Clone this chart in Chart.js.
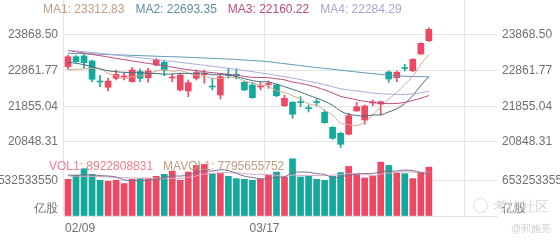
<!DOCTYPE html>
<html>
<head>
<meta charset="utf-8">
<script src="https://cdn.jsdelivr.net/npm/chart.js@4.4.1/dist/chart.umd.min.js"></script>
<style>
html, body { margin: 0; padding: 0; background: #fff; }
#wrap { position: relative; width: 560px; height: 240px; overflow: hidden; font-family: "Liberation Sans", Arial, sans-serif; }
canvas { position: absolute; left: 0; }
#main { top: 0; }
#vol { top: 150px; }
.legend { position: absolute; display: flex; gap: 11px; font-size: 12px; line-height: 14px; white-space: nowrap; }
.wm { position: absolute; color: #d6d6d6; white-space: nowrap; }
</style>
</head>
<body>
<div id="wrap">
  <canvas id="main" width="560" height="150"></canvas>
  <canvas id="vol" width="560" height="90"></canvas>
  <div class="legend" id="maLegend" style="left:43px; top:2px;"></div>
  <div class="legend" id="volLegend" style="left:49px; top:159px; gap:10px;"></div>
  <div class="wm" style="left:473px; top:198px; width:13px; height:13px; border:1px solid #dcdcdc; border-radius:50%;"></div>
  <div class="wm" style="left:493px; top:198px; font-size:13.5px;">考拉社区</div>
  <div class="wm" style="left:511px; top:222px; font-size:10px; color:#cfcfcf;">@郭施亮</div>
</div>
<script>
// candles, 46 trading days on a 54 slot axis
const slots = 54;
const dateTicks = ['02/09', '03/17'];
const dateTickIdx = [2, 25];

const opens  = [22974, 23256, 23276, 23135, 22562, 22393, 22647, 22683, 22551, 22833,
                22664, 23022, 23098, 22655, 22316, 22288, 22647, 22751, 22418, 22175,
                22748, 22748, 22534, 22457, 22401, 22469, 22457, 21873, 21969, 21978,
                21808, 21978, 21687, 21264, 21094, 21066, 21724, 21470, 21949, 21921,
                22824, 22664, 22937, 22861, 23332, 23708];
const highs  = [23304, 23290, 23324, 23163, 22720, 22647, 22881, 22788, 22946, 22909,
                22929, 23205, 23163, 22759, 22788, 22599, 22881, 22881, 22647, 22740,
                22929, 22918, 22551, 22534, 22534, 22570, 22477, 22175, 21986, 22127,
                21893, 22062, 21752, 21281, 21123, 21659, 21969, 21893, 22034, 22006,
                22853, 22853, 23042, 23200, 23651, 24074];
const lows   = [22901, 23092, 22929, 22551, 22410, 22288, 22599, 22599, 22534, 22551,
                22534, 22994, 22720, 22551, 22288, 22127, 22599, 22505, 22316, 22062,
                22647, 22627, 22297, 22082, 22316, 22364, 22127, 21845, 21518, 21845,
                21696, 21865, 21377, 20925, 20688, 21046, 21715, 21348, 21873, 21611,
                22534, 22551, 22853, 22833, 23324, 23679];
const closes = [23256, 23115, 23087, 22618, 22542, 22570, 22759, 22700, 22881, 22647,
                22853, 23171, 22881, 22672, 22740, 22522, 22805, 22768, 22401, 22692,
                22731, 22731, 22316, 22099, 22418, 22486, 22155, 22082, 21631, 21961,
                21791, 21961, 21394, 20953, 20784, 21591, 21845, 21865, 21966, 21986,
                22627, 22816, 22920, 23183, 23634, 24029];

const ma1 = [22890, 22900, 22915, 22925, 22924, 22786, 22715, 22638, 22690, 22711,
             22768, 22850, 22887, 22845, 22863, 22797, 22724, 22701, 22647, 22638,
             22679, 22665, 22574, 22514, 22459, 22410, 22295, 22248, 22154, 22063,
             21924, 21885, 21748, 21612, 21377, 21337, 21313, 21408, 21610, 21851,
             22058, 22252, 22463, 22706, 23036, 23312.83];
const ma2 = [23100, 23070, 23030, 22975, 22910, 22860, 22830, 22815, 22810, 22818,
             22777, 22783, 22762, 22768, 22787, 22783, 22787, 22794, 22746, 22751,
             22738, 22694, 22638, 22581, 22548, 22545, 22480, 22411, 22334, 22261,
             22167, 22090, 21998, 21883, 21720, 21630, 21599, 21578, 21611, 21614,
             21697, 21783, 21935, 22158, 22443, 22693.35];
const ma3 = [23430, 23395, 23360, 23322, 23285, 23248, 23210, 23172, 23136, 23100,
             23066, 23032, 22998, 22962, 22925, 22890, 22860, 22832, 22806, 22784,
             22758, 22739, 22700, 22674, 22668, 22664, 22633, 22603, 22540, 22506,
             22453, 22392, 22318, 22232, 22134, 22088, 22040, 21994, 21973, 21937,
             21932, 21936, 21967, 22021, 22082, 22160.22];
const ma4 = [23440, 23420, 23398, 23375, 23352, 23328, 23303, 23278, 23252, 23226,
             23200, 23174, 23148, 23122, 23096, 23070, 23042, 23014, 22986, 22958,
             22928, 22898, 22866, 22834, 22800, 22766, 22730, 22692, 22652, 22610,
             22561, 22522, 22466, 22410, 22352, 22319, 22289, 22261, 22230, 22208,
             22201, 22189, 22190, 22207, 22237, 22284.29];
// long average, no legend entry
const maLong = [23350, 23345, 23340, 23333, 23326, 23318, 23310, 23302, 23294, 23286,
                23278, 23270, 23262, 23255, 23248, 23240, 23230, 23220, 23210, 23200,
                23188, 23176, 23162, 23148, 23132, 23115, 23088, 23060, 23032, 23004,
                22975, 22950, 22925, 22900, 22875, 22850, 22825, 22800, 22778, 22755,
                22735, 22718, 22705, 22697, 22692, 22690];

const volumes = [6.70e9, 7.42e9, 8.63e9, 7.60e9, 6.52e9, 6.33e9, 6.52e9, 5.92e9, 6.70e9, 6.82e9,
                 6.82e9, 7.25e9, 7.60e9, 8.21e9, 6.52e9, 8.02e9, 9.23e9, 9.41e9, 7.73e9, 7.84e9,
                 7.25e9, 6.82e9, 6.70e9, 6.52e9, 6.70e9, 7.42e9, 8.02e9, 7.12e9, 10.45e9, 7.12e9,
                 7.25e9, 6.70e9, 6.52e9, 7.25e9, 7.92e9, 9.05e9, 7.55e9, 6.94e9, 7.25e9, 9.84e9,
                 9.23e9, 7.84e9, 7.73e9, 6.82e9, 7.92e9, 8922808831];
const mavol1 = [7.45e9, 7.45e9, 7.50e9, 7.55e9, 7.37e9, 7.30e9, 7.12e9, 6.58e9, 6.40e9, 6.46e9,
                6.56e9, 6.70e9, 7.04e9, 7.34e9, 7.28e9, 7.52e9, 7.92e9, 8.28e9, 8.18e9, 8.45e9,
                8.29e9, 7.81e9, 7.27e9, 7.03e9, 6.80e9, 6.83e9, 7.07e9, 7.16e9, 7.94e9, 8.03e9,
                7.99e9, 7.73e9, 7.61e9, 6.97e9, 7.13e9, 7.49e9, 7.66e9, 7.74e9, 7.74e9, 8.13e9,
                8.16e9, 8.22e9, 8.38e9, 8.29e9, 7.91e9, 7795655752];
const mavol2 = [7.30e9, 7.28e9, 7.25e9, 7.22e9, 7.18e9, 7.12e9, 7.05e9, 6.98e9, 6.94e9, 6.92e9,
                6.93e9, 6.91e9, 6.81e9, 6.87e9, 6.87e9, 7.04e9, 7.31e9, 7.66e9, 7.76e9, 7.86e9,
                7.91e9, 7.86e9, 7.77e9, 7.60e9, 7.62e9, 7.56e9, 7.44e9, 7.21e9, 7.48e9, 7.41e9,
                7.41e9, 7.40e9, 7.38e9, 7.46e9, 7.58e9, 7.74e9, 7.69e9, 7.68e9, 7.36e9, 7.63e9,
                7.83e9, 7.94e9, 8.06e9, 8.02e9, 8.02e9, 8.00e9];

const priceTicks = [20848.31, 21855.04, 22861.77, 23868.50];
const volTicks = [0, 6532533550];
const volUnit = '亿股';

const maNames = ['MA1', 'MA2', 'MA3', 'MA4'];
const maLast = [23312.83, 22693.35, 22160.22, 22284.29];
const volNames = ['VOL1', 'MAVOL1'];
const volLast = [8922808831, 7795655752];

const RED = '#ef4865';
const GREEN = '#14a99b';
const GRID = '#e3e3e3';
const TXT = '#6f6f6f';
const FONT = { family: '"Liberation Sans", Arial, sans-serif', size: 12 };
const maColors = ['#cfa98e', '#3f6d7c', '#b9497f', '#a6a9dc'];
const maLegendColors = ['#c49d82', '#5b8ca6', '#b9497f', '#a3a7d6'];
const longColor = '#5e98b5';
const volLineColors = ['#7e6d8f', '#d3a9c5'];
const volLegendColors = ['#f07d8e', '#c49d82'];

// legends
const maBox = document.getElementById('maLegend');
maNames.forEach((n, i) => {
  const s = document.createElement('span');
  s.style.color = maLegendColors[i];
  s.textContent = n + ': ' + maLast[i].toFixed(2);
  maBox.appendChild(s);
});
const volBox = document.getElementById('volLegend');
volNames.forEach((n, i) => {
  const s = document.createElement('span');
  s.style.color = volLegendColors[i];
  s.textContent = n + ': ' + volLast[i];
  volBox.appendChild(s);
});

const labels = Array.from({ length: slots }, (_, i) => {
  const k = dateTickIdx.indexOf(i);
  return k >= 0 ? dateTicks[k] : '';
});
const upColor = closes.map((c, i) => (c >= opens[i] ? RED : GREEN));
const vGrid = [0, 25, 50, 54];

function xAxis(showLabels) {
  return {
    type: 'category',
    labels: labels,
    offset: true,
    grid: {
      offset: true,
      drawTicks: false,
      color: ctx => (vGrid.includes(ctx.index) ? GRID : 'rgba(0,0,0,0)')
    },
    border: { display: showLabels, color: GRID },
    ticks: {
      display: showLabels,
      autoSkip: false,
      maxRotation: 0,
      minRotation: 0,
      labelOffset: -4,
      padding: 5,
      color: TXT,
      font: FONT,
      callback: (v, i) => labels[i]
    },
    afterFit: s => { s.height = showLabels ? 24 : 0; s.paddingLeft = 0; s.paddingRight = 0; }
  };
}

function yAxis(pos, min, max, ticks, fmt, grid) {
  return {
    position: pos,
    min: min,
    max: max,
    afterBuildTicks: s => { s.ticks = ticks.map(v => ({ value: v })); },
    ticks: { color: TXT, font: FONT, padding: pos === 'left' ? 6 : 5, callback: fmt },
    grid: { display: grid, color: GRID, drawTicks: false },
    border: { display: false },
    afterFit: s => { s.width = pos === 'left' ? 64 : 63; s.paddingTop = 0; s.paddingBottom = 0; }
  };
}

function line(data, color, order) {
  return { type: 'line', data: data, borderColor: color, borderWidth: 1, pointRadius: 0, tension: 0.3, order: order, yAxisID: 'y' };
}

const priceFmt = v => Number(v).toFixed(2);
new Chart(document.getElementById('main'), {
  type: 'bar',
  data: {
    labels: labels,
    datasets: [
      { data: lows.map((l, i) => [l, highs[i]]), backgroundColor: upColor, barThickness: 1, grouped: false, order: 4, yAxisID: 'y' },
      { data: opens.map((o, i) => [o, closes[i]]), backgroundColor: upColor, barThickness: 6, minBarLength: 1, grouped: false, order: 3, yAxisID: 'y' },
      line(maLong, longColor, 2),
      line(ma4, maColors[3], 1),
      line(ma3, maColors[2], 1),
      line(ma2, maColors[1], 1),
      line(ma1, maColors[0], 1)
    ]
  },
  options: {
    responsive: false,
    animation: false,
    layout: { padding: 0 },
    plugins: { legend: { display: false }, tooltip: { enabled: false } },
    scales: {
      x: xAxis(false),
      y: yAxis('left', 20622.5, 24856.4, priceTicks, priceFmt, true),
      y2: yAxis('right', 20622.5, 24856.4, priceTicks, priceFmt, false)
    }
  }
});

const volFmt = v => (v === 0 ? [volUnit, ''] : String(v));
new Chart(document.getElementById('vol'), {
  type: 'bar',
  data: {
    labels: labels,
    datasets: [
      { data: volumes, backgroundColor: upColor, barThickness: 6, grouped: false, order: 3, yAxisID: 'y' },
      line(mavol2, volLineColors[1], 2),
      line(mavol1, volLineColors[0], 1)
    ]
  },
  options: {
    responsive: false,
    animation: false,
    layout: { padding: 0 },
    plugins: { legend: { display: false }, tooltip: { enabled: false } },
    scales: {
      x: xAxis(true),
      y: yAxis('left', 0, 12.05e9, volTicks, volFmt, true),
      y2: yAxis('right', 0, 12.05e9, volTicks, volFmt, false)
    }
  }
});
</script>
</body>
</html>
